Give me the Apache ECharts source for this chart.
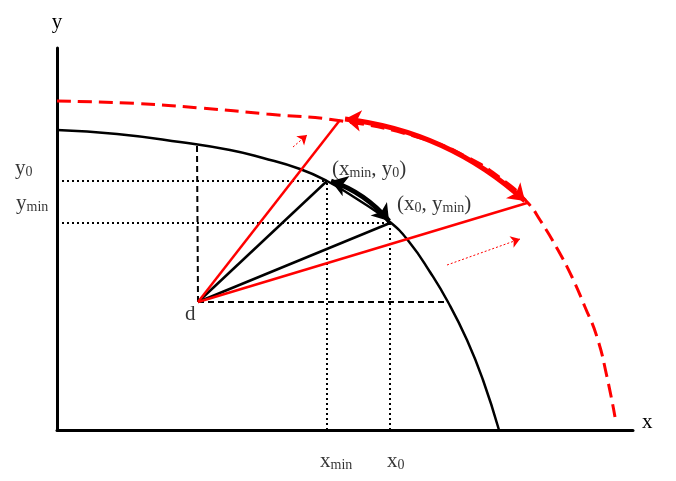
<!DOCTYPE html>
<html><head><meta charset="utf-8">
<script src="https://cdn.jsdelivr.net/npm/echarts@6/dist/echarts.min.js"></script>
<style>html,body{margin:0;padding:0;background:#fff}#c{width:676px;height:481px}</style>
</head><body><div id="c"></div>
<script>
// frontier curves (x, y)
const innerFrontier = [[0,300],[60,296],[123,288],[173,280],[206,272],[243,261],[270,249],[300,231],[333,208],[353,187],[373,158],[391,128],[410,90],[426,50],[442,0]];
const outerFrontier = [[0,329],[80,326.5],[143,322],[210,316],[285,309],[360,293],[410,273],[450,247],[471,227],[483,210],[501,180],[515,153],[528,123],[540,93],[550,53],[558,13]];
// arc arrows (start, end)
const outerArc = [[288,311],[468,229]];
const innerArc = [[274,249],[332,209]];
// key points
const dPoint = [141,128];
const xminY0 = [270,249];
const x0Ymin = [333,207];
const outerA = [283,310];
const outerB = [470,227];
const curveTopOfD = [140,284];
const curveRightOfD = [390,128];
const shiftArrows = [[[236,283],[250,295]],[[390,165],[463,191]]];
// annotation labels
const labelTexts = ['{n|y}{s|0}','{n|y}{s|min}','{n|(x}{s|min}{n|, y}{s|0}{n|)}','{n|(x}{s|0}{n|, y}{s|min}{n|)}','{n|d}','{n|x}{s|min}','{n|x}{s|0}'];
const labelAnchors = [[-42,262],[-41,227],[275,261],[340,226],[128,116],[263,-31],[330,-31]];
const axisNames = ['x','y'];

const FONT = 'Liberation Serif';
const rich = {
  n:{fontFamily:FONT,fontSize:21,color:'#000',lineHeight:22},
  s:{fontFamily:FONT,fontSize:14,color:'#000',lineHeight:14,verticalAlign:'bottom'}
};
const chart = echarts.init(document.getElementById('c'));
const axisCommon = {
  type:'value', axisTick:{show:false}, axisLabel:{show:false}, splitLine:{show:false},
  axisLine:{show:true,onZero:false,lineStyle:{color:'#000',width:3}}
};
chart.setOption({
  animation:false,
  backgroundColor:'#fff',
  grid:{left:57,right:43,top:48,bottom:51},
  xAxis:Object.assign({},axisCommon,{min:0,max:576,name:axisNames[0],nameGap:9,
    nameTextStyle:{fontFamily:FONT,fontSize:21,color:'#000',verticalAlign:'bottom',lineHeight:16}}),
  yAxis:Object.assign({},axisCommon,{min:0,max:382,name:axisNames[1],nameGap:15,
    nameTextStyle:{fontFamily:FONT,fontSize:21,color:'#000'}}),
  series:[
    {type:'lines',coordinateSystem:'cartesian2d',silent:true,z:2,
      lineStyle:{color:'#000',width:2,type:[2,3],opacity:1},
      data:[
        {coords:[[0,xminY0[1]],xminY0]},
        {coords:[[0,x0Ymin[1]],x0Ymin]},
        {coords:[[xminY0[0],0],xminY0]},
        {coords:[[x0Ymin[0],0],x0Ymin]}
      ]},
    {type:'lines',coordinateSystem:'cartesian2d',silent:true,z:2,
      lineStyle:{color:'#000',width:2,type:[6,4],opacity:1},
      data:[
        {coords:[dPoint,curveTopOfD]},
        {coords:[dPoint,curveRightOfD]}
      ]},
    {type:'line',data:innerFrontier,smooth:0.5,showSymbol:false,silent:true,z:3,
      lineStyle:{color:'#000',width:2.5}},
    {type:'line',data:outerFrontier,smooth:0.5,showSymbol:false,silent:true,z:3,
      lineStyle:{color:'#ff0000',width:3,type:[14,7]}},
    {type:'lines',coordinateSystem:'cartesian2d',silent:true,z:4,
      lineStyle:{color:'#000',width:2.5,opacity:1},
      data:[{coords:[dPoint,xminY0]},{coords:[dPoint,x0Ymin]}]},
    {type:'lines',coordinateSystem:'cartesian2d',silent:true,z:4,
      lineStyle:{color:'#ff0000',width:2.5,opacity:1},
      data:[{coords:[dPoint,outerA]},{coords:[dPoint,outerB]}]},
    {type:'lines',coordinateSystem:'cartesian2d',silent:true,z:5,
      symbol:['arrow','arrow'],symbolSize:16,
      lineStyle:{color:'#ff0000',width:5,opacity:1,curveness:0.16},
      data:[{coords:outerArc}]},
    {type:'lines',coordinateSystem:'cartesian2d',silent:true,z:5,
      symbol:['arrow','arrow'],symbolSize:16,
      lineStyle:{color:'#000',width:5,opacity:1,curveness:0.14},
      data:[{coords:innerArc}]},
    {type:'lines',coordinateSystem:'cartesian2d',silent:true,z:5,
      symbol:['none','arrow'],symbolSize:9,
      lineStyle:{color:'#ff0000',width:1,type:[2,2],opacity:1},
      data:shiftArrows.map(c=>({coords:c}))},
    {type:'scatter',clip:false,silent:true,symbolSize:0,z:6,
      data:labelAnchors.map((p,i)=>({value:p,label:{formatter:labelTexts[i]}})),
      label:{show:true,color:'#000',position:'inside',align:'left',verticalAlign:'middle',rich:rich}}
  ]
});
</script></body></html>
